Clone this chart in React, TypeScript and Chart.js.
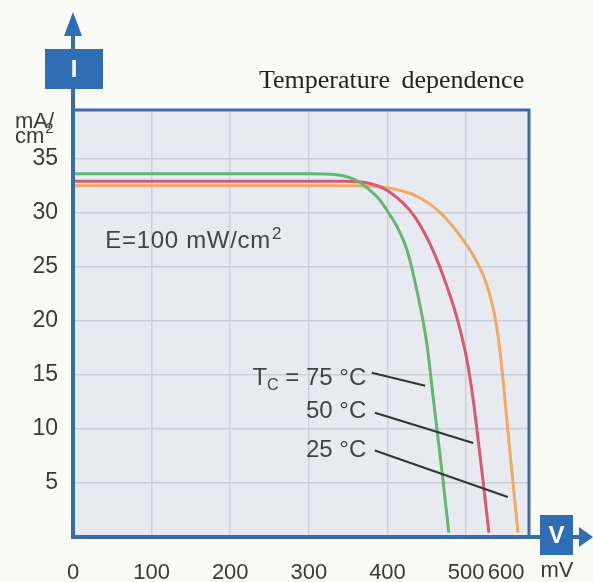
import React, { useEffect, useRef } from 'react';
import { Chart, registerables } from 'chart.js';

Chart.register(...registerables);

// ---- Data ----
const voltage75 = [0, 300, 335, 360, 374, 390, 403, 415, 425, 438, 450, 458, 464, 471, 478];
const current75 = [33.6, 33.6, 33.5, 33.0, 32.3, 31.2, 29.8, 28.3, 26.5, 22.6, 17.9, 13.0, 9.3, 5.0, 0.4];

const voltage50 = [0, 345, 378, 403, 433, 458, 476, 489, 501, 509, 515, 522, 529];
const current50 = [32.9, 32.9, 32.7, 31.9, 29.8, 26.5, 23.1, 20.1, 16.4, 12.7, 9.2, 4.9, 0.4];

const voltage25 = [0, 360, 400, 438, 467, 496, 511, 524, 533, 539, 545, 551, 558, 566];
const current25 = [32.5, 32.5, 32.3, 31.5, 30.0, 27.5, 25.8, 23.8, 21.6, 19.4, 16.0, 11.5, 6.2, 0.4];

const seriesNames = ['75 °C', '50 °C', '25 °C'];
const seriesColors = ['#62b86e', '#d95a70', '#f0aa62'];

const xTickValues = [0, 100, 200, 300, 400, 500, 551];
const xTickLabels = ['0', '100', '200', '300', '400', '500', '600'];
const yTickValues = [5, 10, 15, 20, 25, 30, 35];
const yTickLabels = ['5', '10', '15', '20', '25', '30', '35'];

const titleText = 'Temperature dependence';
const yUnitTop = 'mA/';
const yUnitBottom = 'cm';
const xUnit = 'mV';
const irradianceText = 'E=100 mW/cm';
const irradiancePos = [41, 26.7];

// annotation labels (data coordinates)
const annotationTextX = [373, 373, 373];
const annotationTextY = [14.7, 11.6, 8.0];
const leaderFrom = [[380, 15.2], [384, 11.5], [384, 8.0]];
const leaderTo = [[448, 14.0], [509, 8.7], [553, 3.7]];

// ---- Styles ----
const pageBg = '#fafaf6';
const plotBg = '#e7eaf0';
const gridColor = '#cbcfda';
const axisBlue = '#3a6ca6';
const boxBlue = '#2f6db4';
const textColor = '#3a3a3a';
const sans = "'Liberation Sans', Arial, Helvetica, sans-serif";
const serif = "'Liberation Serif', 'Times New Roman', serif";

const toXY = (xs: number[], ys: number[]) => xs.map((x, i) => ({ x, y: ys[i] }));

const decorPlugin = {
  id: 'decor',
  beforeDraw(chart: any) {
    const { ctx, chartArea: a, width, height } = chart;
    ctx.save();
    ctx.fillStyle = pageBg;
    ctx.fillRect(0, 0, width, height);
    ctx.fillStyle = plotBg;
    ctx.fillRect(a.left, a.top, a.right - a.left, a.bottom - a.top);
    ctx.restore();
  },
  afterDatasetsDraw(chart: any) {
    const { ctx, chartArea: a, width } = chart;
    const xs = chart.scales.x;
    const ys = chart.scales.y;
    const px = (v: number) => xs.getPixelForValue(v);
    const py = (v: number) => ys.getPixelForValue(v);
    ctx.save();

    // frame top / right
    ctx.strokeStyle = axisBlue;
    ctx.lineWidth = 3;
    ctx.beginPath();
    ctx.moveTo(a.left, a.top);
    ctx.lineTo(a.right, a.top);
    ctx.lineTo(a.right, a.bottom);
    ctx.stroke();

    // y axis with arrow
    ctx.lineWidth = 4;
    ctx.beginPath();
    ctx.moveTo(a.left, a.bottom + 2);
    ctx.lineTo(a.left, 30);
    ctx.stroke();
    ctx.fillStyle = boxBlue;
    ctx.beginPath();
    ctx.moveTo(a.left, 12);
    ctx.lineTo(a.left - 9, 36);
    ctx.lineTo(a.left + 9, 36);
    ctx.closePath();
    ctx.fill();
    ctx.fillRect(a.left - 28, 49, 58, 40);
    ctx.fillStyle = '#ffffff';
    ctx.font = `bold 24px ${sans}`;
    ctx.textAlign = 'center';
    ctx.textBaseline = 'middle';
    ctx.fillText('I', a.left + 1, 70);

    // x axis with arrow
    ctx.strokeStyle = axisBlue;
    ctx.lineWidth = 4;
    ctx.beginPath();
    ctx.moveTo(a.left - 2, a.bottom);
    ctx.lineTo(width - 12, a.bottom);
    ctx.stroke();
    ctx.fillStyle = boxBlue;
    ctx.beginPath();
    ctx.moveTo(width, a.bottom);
    ctx.lineTo(width - 14, a.bottom - 10);
    ctx.lineTo(width - 14, a.bottom + 10);
    ctx.closePath();
    ctx.fill();
    ctx.fillRect(a.right + 11, a.bottom - 22, 33, 40);
    ctx.fillStyle = '#ffffff';
    ctx.font = `bold 24px ${sans}`;
    ctx.fillText('V', a.right + 27.5, a.bottom - 1);

    // leader lines
    ctx.strokeStyle = '#333333';
    ctx.lineWidth = 2;
    for (let i = 0; i < leaderFrom.length; i++) {
      ctx.beginPath();
      ctx.moveTo(px(leaderFrom[i][0]), py(leaderFrom[i][1]));
      ctx.lineTo(px(leaderTo[i][0]), py(leaderTo[i][1]));
      ctx.stroke();
    }

    // annotation labels
    ctx.fillStyle = '#444444';
    ctx.textBaseline = 'middle';
    ctx.font = `24px ${sans}`;
    for (let i = 0; i < seriesNames.length; i++) {
      const xR = px(annotationTextX[i]);
      const y = py(annotationTextY[i]);
      if (i === 0) {
        const main = ' = ' + seriesNames[i];
        ctx.font = `24px ${sans}`;
        const wMain = ctx.measureText(main).width;
        const wT = ctx.measureText('T').width;
        ctx.font = `16px ${sans}`;
        const wC = ctx.measureText('C').width;
        const x0 = xR - wMain - wC - wT;
        ctx.textAlign = 'left';
        ctx.font = `24px ${sans}`;
        ctx.fillText('T', x0, y);
        ctx.font = `16px ${sans}`;
        ctx.fillText('C', x0 + wT, y + 8);
        ctx.font = `24px ${sans}`;
        ctx.fillText(main, x0 + wT + wC, y);
      } else {
        ctx.textAlign = 'right';
        ctx.fillText(seriesNames[i], xR, y);
      }
    }

    // irradiance text
    ctx.textAlign = 'left';
    ctx.textBaseline = 'alphabetic';
    ctx.font = `24px ${sans}`;
    (ctx as any).letterSpacing = '0.7px';
    const ex = px(irradiancePos[0]);
    const ey = py(irradiancePos[1]);
    ctx.fillStyle = '#444444';
    ctx.fillText(irradianceText, ex, ey);
    const ew = ctx.measureText(irradianceText).width;
    (ctx as any).letterSpacing = '0px';
    ctx.font = `17px ${sans}`;
    ctx.fillText('2', ex + ew + 1, ey - 9);

    ctx.restore();
  },
  afterDraw(chart: any) {
    const { ctx, chartArea: a } = chart;
    ctx.save();
    // title
    ctx.fillStyle = '#222222';
    ctx.font = `26px ${serif}`;
    ctx.textAlign = 'left';
    ctx.textBaseline = 'alphabetic';
    (ctx as any).wordSpacing = '5px';
    ctx.fillText(titleText, 259, 88);
    (ctx as any).wordSpacing = '0px';

    // y unit
    ctx.fillStyle = textColor;
    ctx.font = `22px ${sans}`;
    ctx.textAlign = 'left';
    ctx.fillText(yUnitTop, 15, 128);
    ctx.fillText(yUnitBottom, 15, 143);
    const wcm = ctx.measureText(yUnitBottom).width;
    ctx.font = `15px ${sans}`;
    ctx.fillText('2', 15 + wcm + 1, 133);

    // x unit
    ctx.font = `22px ${sans}`;
    ctx.textAlign = 'center';
    ctx.textBaseline = 'top';
    ctx.fillText(xUnit, a.right + 28, a.bottom + 23);
    ctx.restore();
  },
};

export default function App() {
  const ref = useRef<HTMLCanvasElement>(null);
  useEffect(() => {
    document.body.style.margin = '0';
    const datasets = [
      { data: toXY(voltage75, current75) },
      { data: toXY(voltage50, current50) },
      { data: toXY(voltage25, current25) },
    ].map((d, i) => ({
      label: seriesNames[i],
      data: d.data,
      showLine: true,
      borderColor: seriesColors[i],
      backgroundColor: seriesColors[i],
      borderWidth: 3,
      pointRadius: 0,
      cubicInterpolationMode: 'monotone' as const,
      fill: false,
    }));

    const chart = new Chart(ref.current!, {
      type: 'scatter',
      data: { datasets },
      plugins: [decorPlugin],
      options: {
        responsive: false,
        animation: false,
        events: [],
        layout: { padding: { left: 0, top: 110, right: 64, bottom: 0 } },
        plugins: {
          legend: { display: false },
          title: { display: false },
          tooltip: { enabled: false },
        },
        scales: {
          x: {
            type: 'linear',
            min: 0,
            max: 580,
            border: { display: false },
            grid: {
              drawTicks: false,
              lineWidth: 1.5,
              color: (c: any) => (c.index === xTickValues.length - 1 || c.index === 0 ? 'rgba(0,0,0,0)' : gridColor),
            },
            afterBuildTicks: (s: any) => {
              s.ticks = xTickValues.map((v) => ({ value: v }));
            },
            afterFit: (s: any) => {
              s.height = 45;
            },
            ticks: {
              autoSkip: false,
              maxRotation: 0,
              minRotation: 0,
              padding: 23,
              color: textColor,
              font: { family: sans, size: 22 },
              callback: (_v: any, i: number) => xTickLabels[i],
            },
          },
          y: {
            type: 'linear',
            min: 0,
            max: 39.5,
            border: { display: false },
            grid: { drawTicks: false, lineWidth: 1.5, color: gridColor },
            afterBuildTicks: (s: any) => {
              s.ticks = yTickValues.map((v) => ({ value: v }));
            },
            afterFit: (s: any) => {
              s.width = 73;
            },
            ticks: {
              autoSkip: false,
              padding: 15,
              color: textColor,
              font: { family: sans, size: 23 },
              callback: (_v: any, i: number) => yTickLabels[i],
            },
          },
        },
      },
    });
    return () => chart.destroy();
  }, []);

  return (
    <div style={{ width: 593, height: 582, position: 'relative' }}>
      <canvas ref={ref} width={593} height={582} style={{ display: 'block' }} />
    </div>
  );
}
